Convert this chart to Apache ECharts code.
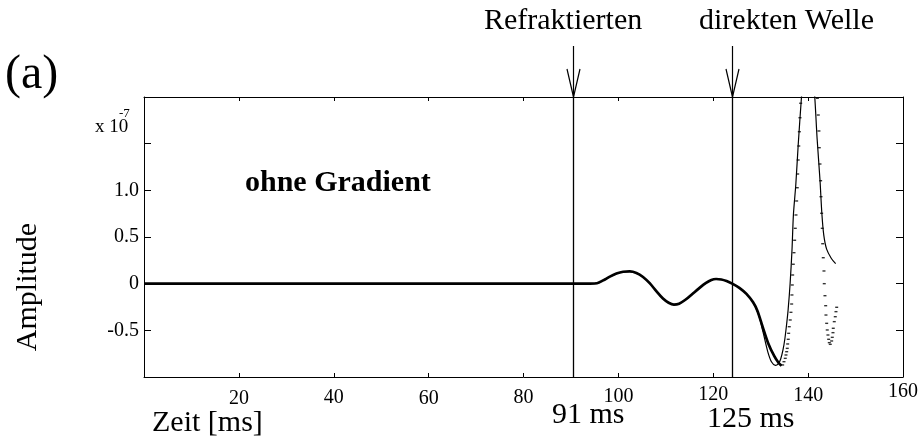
<!DOCTYPE html>
<html><head><meta charset="utf-8">
<script src="https://cdn.jsdelivr.net/npm/echarts@6/dist/echarts.min.js"></script>
<style>html,body{margin:0;padding:0;background:#fff}#c{width:924px;height:441px}</style>
</head><body><div id="c"></div>
<script>
// ---- data ----
const xTicks = [20, 40, 60, 80, 100, 120, 140, 160];
const yTickValues = [-0.5, 0, 0.5, 1.0];
const yTickTexts = ['-0.5', '0', '0.5', '1.0'];

// common part of both traces (time in ms, amplitude in 1e-7)
const sharedT = [0, 94, 95.5, 96.8, 98.2, 99.6, 101.0, 102.4, 103.8, 105.2, 106.6, 108.0, 109.4, 110.6, 111.7, 112.8, 114.2, 115.6, 117.0, 118.4, 119.6, 120.6, 121.7, 122.8, 124.0];
const sharedV = [0, 0, 0.004, 0.035, 0.075, 0.108, 0.128, 0.132, 0.115, 0.072, 0.005, -0.08, -0.16, -0.205, -0.225, -0.215, -0.17, -0.11, -0.05, 0.005, 0.04, 0.05, 0.045, 0.028, 0.0];

// solid trace after 124 ms
const solidT = [125.5, 127.0, 128.4, 129.6, 130.5, 131.5, 132.3, 133.1, 133.7, 134.2, 134.7, 135.1, 135.5, 135.8, 136.2, 136.6, 136.9, 137.4, 137.9, 138.6, 139.3, 140.0, 140.7, 141.4, 141.9, 142.5, 142.9, 143.3, 143.9, 144.9, 145.8];
const solidV = [-0.045, -0.11, -0.2, -0.34, -0.52, -0.73, -0.84, -0.875, -0.86, -0.81, -0.71, -0.59, -0.42, -0.27, 0.0, 0.36, 0.74, 1.06, 1.48, 2.0, 2.45, 2.6, 2.45, 2.0, 1.55, 1.11, 0.75, 0.52, 0.37, 0.27, 0.215];

// dotted trace, dense part after 124 ms
const bandT = [125.5, 127.0, 128.4, 129.3, 130.4, 131.6, 132.9, 133.8, 134.4];
const bandV = [-0.045, -0.11, -0.2, -0.29, -0.46, -0.64, -0.78, -0.85, -0.88];

// dotted trace, separate samples on the steep flanks
const dotsT = [134.63, 134.91, 135.18, 135.33, 135.48, 135.60, 135.69, 135.81, 135.90, 136.02, 136.23, 136.38, 136.53, 136.59, 136.66, 136.74, 136.87, 137.02, 137.16, 137.29, 137.44, 137.58, 137.71, 137.80, 137.90, 138.03, 138.15, 138.28, 138.43,
  141.95, 142.14, 142.28, 142.35, 142.50, 142.64, 142.71, 142.85, 142.98, 143.07, 143.19, 143.34, 143.40, 143.55, 143.70, 143.76, 143.91, 144.03, 144.18, 144.33, 144.46, 144.67,
  144.96, 145.09, 145.24, 145.30, 145.51, 145.72, 145.87, 146.02];
const dotsV = [-0.871, -0.836, -0.800, -0.764, -0.729, -0.693, -0.646, -0.596, -0.532, -0.461, -0.389, -0.307, -0.218, -0.121, -0.014, 0.093, 0.208, 0.332, 0.465, 0.593, 0.736, 0.886, 1.028, 1.175, 1.325, 1.475, 1.628, 1.778, 1.933,
  1.986, 1.807, 1.636, 1.457, 1.282, 1.103, 0.932, 0.754, 0.593, 0.428, 0.278, 0.136, 0.000, -0.129, -0.236, -0.336, -0.425, -0.496, -0.550, -0.596, -0.632, -0.650,
  -0.614, -0.575, -0.525, -0.478, -0.407, -0.354, -0.300, -0.253];

const markerTimes = [90.4, 124.0];
const markerNames = ['Refraktierten', 'direkten Welle'];
const markerLabels = ['91 ms', '125 ms'];

// ---- build ----
const zip = (a, b) => a.map((t, i) => [t, b[i]]);
const solidData = zip(sharedT, sharedV).concat(zip(solidT, solidV));
const bandData = zip(sharedT, sharedV).concat(zip(bandT, bandV));
const dotsData = zip(dotsT, dotsV);

const FONT = '"Liberation Serif", "Times New Roman", serif';
const xLabelLH = {20: 36, 40: 34, 60: 36, 80: 34, 100: 32, 120: 28, 140: 29, 160: 21};
const rich = {};
xTicks.forEach(v => { rich['r' + v] = {fontFamily: FONT, fontSize: 20, color: '#000', lineHeight: xLabelLH[v]}; });

const chart = echarts.init(document.getElementById('c'), null, {renderer: 'canvas'});
const axisLineStyle = {color: '#000', width: 1};
chart.setOption({
  animation: false,
  backgroundColor: '#fff',
  grid: {left: 144, top: 97, width: 759, height: 280, containLabel: false},
  xAxis: [{
    type: 'value', position: 'bottom', min: 0, max: 160, interval: 20,
    axisLine: {show: true, onZero: false, lineStyle: axisLineStyle},
    axisTick: {show: true, inside: true, length: 4, lineStyle: axisLineStyle},
    splitLine: {show: false},
    axisLabel: {
      show: true, margin: 4, verticalAlign: 'top',
      formatter: v => xTicks.indexOf(v) >= 0 ? '{r' + v + '|' + v + '}' : '',
      rich: rich
    }
  }, {
    type: 'value', position: 'top', min: 0, max: 160, interval: 20,
    axisLine: {show: true, onZero: false, lineStyle: axisLineStyle},
    axisTick: {show: true, inside: true, length: 4, lineStyle: axisLineStyle},
    axisLabel: {show: false}, splitLine: {show: false}
  }],
  yAxis: [{
    type: 'value', position: 'left', min: -1, max: 2, interval: 0.5,
    axisLine: {show: true, onZero: false, lineStyle: axisLineStyle},
    axisTick: {show: true, inside: true, length: 7, lineStyle: axisLineStyle},
    splitLine: {show: false},
    axisLabel: {
      show: true, margin: 5, fontFamily: FONT, fontSize: 20, color: '#000',
      formatter: v => { const i = yTickValues.findIndex(y => Math.abs(y - v) < 1e-9); return i >= 0 ? yTickTexts[i] : ''; }
    }
  }, {
    type: 'value', position: 'right', min: -1, max: 2, interval: 0.5,
    axisLine: {show: true, onZero: false, lineStyle: axisLineStyle},
    axisTick: {show: true, inside: true, length: 7, lineStyle: axisLineStyle},
    axisLabel: {show: false}, splitLine: {show: false}
  }],
  series: [{
    name: 'band', type: 'line', data: bandData, smooth: 0.3, showSymbol: false, symbol: 'none',
    lineStyle: {color: '#000', width: 2.7}, z: 2, clip: true
  }, {
    name: 'solid', type: 'line', data: solidData, smooth: 0.3, showSymbol: false, symbol: 'none',
    lineStyle: {color: '#000', width: 1.2}, z: 3, clip: true,
    markLine: {
      silent: true, symbol: ['none', 'none'], label: {show: false},
      lineStyle: {color: '#000', width: 1.3, type: 'solid'},
      data: markerTimes.map(t => ({xAxis: t}))
    }
  }, {
    name: 'dots', type: 'scatter', data: dotsData, symbol: 'rect', symbolSize: [3, 1.4],
    itemStyle: {color: '#000'}, z: 4, clip: true
  }]
});

// ---- annotations ----
const graphics = [];
function txt(text, x, baseline, size, opts) {
  opts = opts || {};
  graphics.push({
    type: 'text', x: x, y: baseline - 0.34 * size, rotation: opts.rotation || 0,
    style: {text: text, fontFamily: FONT, fontSize: size, fontWeight: opts.bold ? 'bold' : 'normal',
      fill: '#000', align: opts.align || 'left', verticalAlign: 'middle'}
  });
}
markerTimes.forEach((t, i) => {
  const p = chart.convertToPixel({gridIndex: 0}, [t, 2]);
  const x = Math.round(p[0]) + 0.5, yt = p[1];
  graphics.push({type: 'polyline', shape: {points: [[x, yt - 51], [x, yt]]}, style: {stroke: '#000', lineWidth: 1.2, fill: null}});
  graphics.push({type: 'polyline', shape: {points: [[x - 6.5, yt - 28], [x, yt], [x + 6.5, yt - 28]]}, style: {stroke: '#000', lineWidth: 1.2, fill: null}});
});
txt(markerNames[0], 484, 31, 30);
txt(markerNames[1], 699, 31, 30);
txt(markerLabels[0], 552, 425, 30);
txt(markerLabels[1], 707, 429, 30);
txt('Zeit [ms]', 152, 433, 30);
txt('(a)', 5, 92, 48);
txt('x 10', 95, 133, 19);
txt('-7', 119, 118, 13);
txt('ohne Gradient', 245, 193, 30, {bold: true});
graphics.push({
  type: 'text', x: 28, y: 287, rotation: Math.PI / 2,
  style: {text: 'Amplitude', fontFamily: FONT, fontSize: 30, fill: '#000', align: 'center', verticalAlign: 'middle'}
});
chart.setOption({graphic: graphics});
</script>
</body></html>
